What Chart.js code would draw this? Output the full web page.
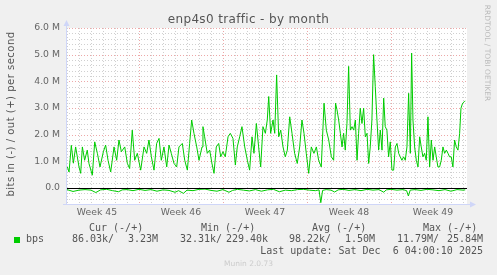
<!DOCTYPE html>
<html>
<head>
<meta charset="utf-8">
<script src="https://cdn.jsdelivr.net/npm/chart.js@4.4.1/dist/chart.umd.min.js"></script>
<style>
  html, body { margin: 0; padding: 0; background: #f0f0f0; }
  #wrap { position: relative; width: 497px; height: 275px; overflow: hidden; font-family: 'DejaVu Sans', sans-serif; color: #666; }
  #chart { position: absolute; left: 0; top: 0; }
  .txt { position: absolute; white-space: pre; }
  .mono { font-family: 'DejaVu Sans Mono', monospace; font-size: 10px; line-height: 12px; color: #555; }
</style>
</head>
<body>
<div id="wrap">
  <canvas id="chart" width="497" height="275"></canvas>

  <div class="txt" style="left:0;width:497px;top:12px;text-align:center;font-size:12px;letter-spacing:0.35px;line-height:14px;color:#555">enp4s0 traffic - by month</div>
  <div class="txt" style="left:-79px;top:108px;width:180px;height:12px;line-height:12px;text-align:center;font-size:10px;letter-spacing:0.5px;color:#555;transform:rotate(-90deg)">bits in (-) / out (+) per second</div>
  <div class="txt" style="left:437px;top:48px;width:100px;height:10px;line-height:10px;text-align:center;font-size:7.5px;color:#bbb;transform:rotate(90deg)">RRDTOOL / TOBI OETIKER</div>

  <div class="txt mono" style="left:89px;top:222px">Cur (-/+)</div>
  <div class="txt mono" style="left:201px;top:222px">Min (-/+)</div>
  <div class="txt mono" style="left:312px;top:222px">Avg (-/+)</div>
  <div class="txt mono" style="left:423px;top:222px">Max (-/+)</div>

  <div style="position:absolute;left:14px;top:237px;width:6px;height:6px;background:#00cc00"></div>
  <div class="txt mono" style="left:26px;top:233px">bps</div>
  <div class="txt mono" style="left:72px;top:233px">86.03k/</div>
  <div class="txt mono" style="left:128px;top:233px">3.23M</div>
  <div class="txt mono" style="left:180px;top:233px">32.31k/</div>
  <div class="txt mono" style="left:226px;top:233px">229.40k</div>
  <div class="txt mono" style="left:289px;top:233px">98.22k/</div>
  <div class="txt mono" style="left:345px;top:233px">1.50M</div>
  <div class="txt mono" style="left:397px;top:233px">11.79M/</div>
  <div class="txt mono" style="left:447px;top:233px">25.84M</div>

  <div class="txt mono" style="right:14px;top:245px">Last update: Sat Dec  6 04:00:10 2025</div>
  <div class="txt" style="left:0;width:497px;top:259px;text-align:center;font-size:7.5px;line-height:10px;color:#ccc">Munin 2.0.73</div>
</div>

<script>
// days counted from monday of week 45, values in Mbit/s
const outDays = [
  1.03, 1.17, 1.36, 1.53, 1.72, 1.86, 2.0, 2.14, 2.28, 2.47, 2.69, 2.83, 3.11, 3.31, 3.53, 3.75,
  4.03, 4.22, 4.42, 4.64, 4.92, 5.14, 5.33, 5.53, 5.81, 6.03, 6.22, 6.44, 6.64, 6.86, 7.14, 7.42,
  7.64, 7.83, 8.03, 8.25, 8.47, 8.67, 8.86, 9.08, 9.31, 9.5, 9.69, 9.92, 10.14, 10.33, 10.61, 10.81,
  11.03, 11.22, 11.39, 11.58, 11.81, 12.0, 12.25,
  12.33, 12.47, 12.69, 12.89, 13.08, 13.25, 13.44, 13.64, 13.81, 14.0, 14.19, 14.42, 14.61, 14.83,
  15.03, 15.19, 15.39, 15.58, 15.81, 16.03, 16.22, 16.42, 16.58, 16.78, 16.97, 17.14, 17.33, 17.53,
  17.69, 17.81, 17.97, 18.17, 18.31, 18.47, 18.64, 18.81, 19.0, 19.19, 19.36, 19.56, 19.75, 19.97,
  20.19, 20.39, 20.58, 20.75, 20.94, 21.14, 21.36, 21.58, 21.78, 21.97, 22.19, 22.42, 22.61, 22.81,
  23.03, 23.22, 23.38,
  23.5, 23.64, 23.78, 23.92, 24.05, 24.19, 24.33, 24.47, 24.61, 24.75, 24.89, 25.03, 25.17, 25.3,
  25.44, 25.58, 25.72, 25.86, 26.0, 26.14, 26.27, 26.41, 26.55, 26.69, 26.83, 26.97, 27.11, 27.25,
  27.39, 27.52, 27.66, 27.8, 27.94, 28.08, 28.22, 28.36, 28.5, 28.64, 28.77, 28.91, 29.05, 29.19,
  29.33, 29.47, 29.61, 29.72, 29.83, 29.97, 30.11, 30.25, 30.39, 30.52, 30.66, 30.8, 30.94, 31.08,
  31.22, 31.36, 31.5, 31.64, 31.77, 31.91, 32.05, 32.19, 32.33, 32.47, 32.61, 32.75, 32.88, 33.02,
  33.16, 33.3, 33.44, 33.58, 33.72, 33.83, 33.97, 34.11, 34.19
]
const outBps = [
  0.79, 0.6, 1.6, 0.93, 1.54, 1.17, 0.79, 0.55, 1.54, 1.04, 1.42, 0.92, 0.48, 1.73, 1.3, 0.79,
  1.36, 1.61, 1.04, 0.6, 1.54, 1.04, 1.8, 1.36, 1.54, 0.92, 0.73, 2.17, 1.04, 1.3, 0.67, 1.54,
  1.3, 1.8, 1.17, 0.67, 1.67, 1.86, 1.04, 1.54, 0.79, 1.61, 1.3, 0.92, 0.79, 1.54, 1.67, 1.04,
  0.67, 1.67, 2.55, 2.05, 1.54, 1.04, 1.54,
  2.3, 1.92, 1.3, 1.42, 0.92, 0.55, 1.54, 1.67, 1.17, 1.36, 1.17, 1.92, 2.05, 1.86,
  0.86, 1.54, 1.92, 2.3, 1.54, 1.04, 0.67, 1.92, 1.3, 2.42, 1.54, 0.79, 2.3, 2.05,
  2.55, 3.43, 2.05, 2.55, 2.05, 4.24, 1.92, 2.17, 1.54, 1.17, 1.42, 2.67, 2.05, 1.3,
  0.92, 1.54, 2.55, 2.05, 1.3, 0.55, 1.54, 1.3, 1.54, 1.04, 0.79, 3.18, 2.17, 1.8,
  1.17, 1.04, 3.18,
  2.93, 2.55, 2.05, 1.54, 2.05, 1.42, 2.42, 4.56, 2.17, 2.3, 2.17, 2.55, 1.04, 2.05,
  2.99, 2.42, 2.99, 1.92, 2.05, 0.92, 1.54, 2.55, 5.0, 3.8, 2.55, 1.42, 2.17, 1.42,
  3.37, 2.3, 2.17, 1.17, 1.73, 0.67, 0.67, 1.54, 1.67, 1.3, 1.17, 1.04, 1.17, 1.04,
  1.54, 3.55, 1.3, 5.06, 2.55, 1.54, 1.04, 0.79, 1.92, 1.54, 1.17, 1.3, 1.04, 2.67,
  0.79, 1.8, 1.04, 1.54, 1.17, 0.79, 0.79, 1.04, 1.54, 1.3, 1.42, 1.3, 1.17, 1.17,
  0.79, 1.8, 1.54, 1.42, 2.05, 2.99, 3.18, 3.24, 3.26
]

const inDays = [
  1.0, 1.5, 2.0, 2.5, 3.0, 3.4, 3.8, 4.3, 4.8, 5.3, 5.6, 6.0, 6.5, 7.0, 7.5, 8.0, 8.5, 9.0, 9.5,
  10.0, 10.3, 10.7, 11.0, 11.5, 12.0, 12.5, 13.0, 13.5, 14.0, 14.5, 14.8, 15.2, 15.7, 16.2, 16.7,
  17.2, 17.7, 18.2, 18.7, 19.2, 19.7, 20.2, 20.7, 21.2, 21.7, 22.0, 22.15, 22.3, 22.6, 23.0, 23.3,
  23.6, 24.0, 24.5, 25.0, 25.5, 26.0, 26.5, 27.0, 27.4, 27.6, 28.0, 28.5, 29.0, 29.3, 29.45, 29.6,
  30.0, 30.5, 31.0, 31.5, 32.0, 32.5, 33.0, 33.5, 34.0, 34.19
]
const inBps = [
  -0.06, -0.13, -0.08, -0.06, -0.08, -0.17, -0.07, -0.05, -0.1, -0.14, -0.07, -0.06, -0.1, -0.05, -0.09, -0.06, -0.12, -0.07, -0.09,
  -0.16, -0.1, -0.2, -0.08, -0.1, -0.05, -0.04, -0.09, -0.12, -0.06, -0.16, -0.09, -0.05, -0.08, -0.11, -0.06,
  -0.12, -0.07, -0.05, -0.14, -0.08, -0.1, -0.06, -0.05, -0.08, -0.1, -0.07, -0.55, -0.09, -0.06, -0.08, -0.15,
  -0.07, -0.05, -0.09, -0.06, -0.1, -0.05, -0.08, -0.06, -0.16, -0.07, -0.05, -0.08, -0.06, -0.1, -0.3, -0.08,
  -0.06, -0.09, -0.05, -0.07, -0.1, -0.06, -0.12, -0.06, -0.08, -0.07
]

const weekLabels  = ['Week 45', 'Week 46', 'Week 47', 'Week 48', 'Week 49']
const weekCenters = [3.5, 10.5, 17.5, 24.5, 31.5]
const yTicks      = [0, 1, 2, 3, 4, 5, 6]

const X_MIN = 11 / 12, X_MAX = 412 / 12
const Y_MIN = -0.6,    Y_MAX = 6

const GRID  = 'rgba(170,170,170,0.55)'
const MGRID = 'rgba(225,110,110,0.6)'
const AXIS  = '#cfd6f8'
const LINE  = '#00cc00'

const toPoints = (days, vals) => days.map((d, i) => ({ x: d, y: vals[i] }))

const muninGrid = {
  id: 'muninGrid',
  beforeDraw(chart) {
    const { ctx, chartArea: a, scales: { x, y } } = chart
    ctx.save()
    ctx.fillStyle = '#f0f0f0'
    ctx.fillRect(0, 0, chart.width, chart.height)
    ctx.fillStyle = '#ffffff'
    ctx.fillRect(a.left, a.top, a.right - a.left, a.bottom - a.top)

    ctx.lineWidth = 1
    ctx.setLineDash([1, 2])
    const hline = (v, c) => {
      const py = Math.round(y.getPixelForValue(v)) + 0.5
      ctx.strokeStyle = c
      ctx.beginPath(); ctx.moveTo(a.left, py); ctx.lineTo(a.right, py); ctx.stroke()
    }
    const vline = (v, c) => {
      const px = Math.round(x.getPixelForValue(v)) + 0.5
      ctx.strokeStyle = c
      ctx.beginPath(); ctx.moveTo(px, a.top); ctx.lineTo(px, a.bottom); ctx.stroke()
    }
    for (let i = -3; i <= 30; i++) if (i % 5) hline(i / 5, GRID)
    for (let d = 1; d <= 34; d++) if (d % 7) vline(d, GRID)
    yTicks.forEach(v => hline(v, MGRID))
    for (let d = 7; d <= 34; d += 7) vline(d, MGRID)
    ctx.restore()
  },
  afterDatasetsDraw(chart) {
    const { ctx, chartArea: a, scales: { y } } = chart
    ctx.save()
    ctx.lineWidth = 1
    // zero rule
    const y0 = Math.round(y.getPixelForValue(0)) + 0.5
    ctx.strokeStyle = '#000000'
    ctx.beginPath(); ctx.moveTo(a.left, y0); ctx.lineTo(a.right, y0); ctx.stroke()

    // axes + arrows
    const ax = a.left + 0.5, ay = a.bottom + 0.5
    ctx.strokeStyle = AXIS
    ctx.fillStyle = AXIS
    ctx.beginPath(); ctx.moveTo(ax, ay); ctx.lineTo(ax, a.top - 3); ctx.stroke()
    ctx.beginPath(); ctx.moveTo(a.left - 3, ay); ctx.lineTo(a.right + 4, ay); ctx.stroke()
    ctx.beginPath()
    ctx.moveTo(ax, a.top - 8); ctx.lineTo(ax - 3, a.top - 2); ctx.lineTo(ax + 3, a.top - 2)
    ctx.closePath(); ctx.fill()
    ctx.beginPath()
    ctx.moveTo(a.right + 9, ay); ctx.lineTo(a.right + 3, ay - 3); ctx.lineTo(a.right + 3, ay + 3)
    ctx.closePath(); ctx.fill()
    ctx.restore()
  }
}

const tickFont = { family: "'DejaVu Sans', sans-serif", size: 9.3 }

new Chart(document.getElementById('chart').getContext('2d'), {
  type: 'line',
  data: {
    datasets: [
      { label: 'out', data: toPoints(outDays, outBps), borderColor: LINE, borderWidth: 1, pointRadius: 0, tension: 0 },
      { label: 'in',  data: toPoints(inDays, inBps),   borderColor: LINE, borderWidth: 1, pointRadius: 0, tension: 0 }
    ]
  },
  options: {
    responsive: false,
    animation: false,
    devicePixelRatio: 1,
    layout: { padding: { top: 28, right: 30, left: 0, bottom: 0 } },
    plugins: { legend: { display: false }, tooltip: { enabled: false }, title: { display: false } },
    scales: {
      x: {
        type: 'linear',
        min: X_MIN,
        max: X_MAX,
        grid: { display: false, drawTicks: false },
        border: { display: false },
        afterFit: s => { s.height = 71 },
        afterBuildTicks: s => { s.ticks = weekCenters.map(v => ({ value: v })) },
        ticks: {
          autoSkip: false, maxRotation: 0, padding: 3,
          color: '#666', font: tickFont,
          callback: (v, i) => weekLabels[i]
        }
      },
      y: {
        min: Y_MIN,
        max: Y_MAX,
        grid: { display: false, drawTicks: false },
        border: { display: false },
        afterFit: s => { s.width = 66 },
        afterBuildTicks: s => { s.ticks = yTicks.map(v => ({ value: v })) },
        ticks: {
          padding: 6,
          color: '#666', font: tickFont,
          callback: v => v === 0 ? '0.0' : v.toFixed(1) + ' M'
        }
      }
    }
  },
  plugins: [muninGrid]
})
</script>
</body>
</html>
